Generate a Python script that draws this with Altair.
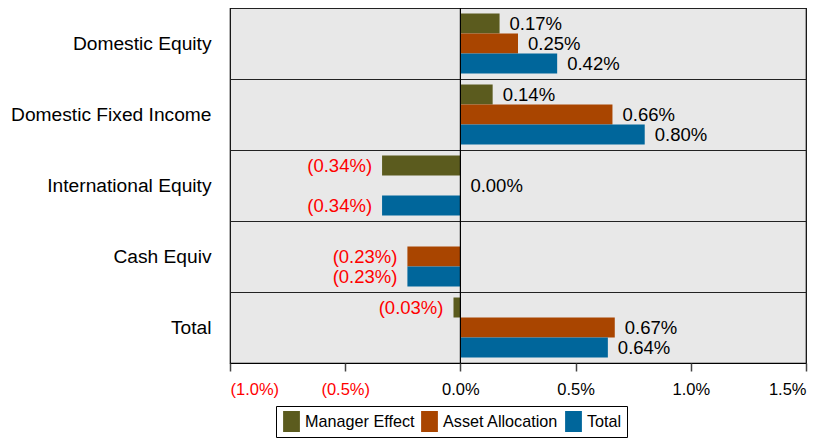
import altair as alt
import pandas as pd

categories = ["Domestic Equity", "Domestic Fixed Income", "International Equity", "Cash Equiv", "Total"]
series = ["Manager Effect", "Asset Allocation", "Total"]
manager = [0.17, 0.14, -0.34, None, -0.03]
allocation = [0.25, 0.66, 0.00, -0.23, 0.67]
total = [0.42, 0.80, -0.34, -0.23, 0.64]
colors = ["#5B5B1E", "#A94500", "#00669B"]
x_ticks = [-1.0, -0.5, 0.0, 0.5, 1.0, 1.5]

rows = []
for s, vals in zip(series, [manager, allocation, total]):
    for c, v in zip(categories, vals):
        if v is not None:
            rows.append({"category": c, "series": s, "value": v})
df = pd.DataFrame(rows)

FONT = "Liberation Sans"

y_enc = alt.Y(
    "category:N",
    sort=categories,
    title=None,
    scale=alt.Scale(paddingInner=0, paddingOuter=0),
    axis=alt.Axis(
        grid=True, bandPosition=0, gridColor="#222222", gridWidth=1, gridOpacity=1,
        ticks=False, domain=False, labelFontSize=19.2, labelFont=FONT,
        labelColor="black", labelPadding=19, labelLimit=400,
    ),
)
yoff = alt.YOffset(
    "series:N", sort=series,
    scale=alt.Scale(paddingOuter=0.275, paddingInner=0),
)
x_enc = alt.X(
    "value:Q",
    title=None,
    scale=alt.Scale(domain=[-1.0, 1.5], nice=False, zero=False),
    axis=alt.Axis(
        values=x_ticks, grid=False, domain=False, ticks=True, tickSize=8,
        tickColor="#444444", tickWidth=1.5, labelFontSize=16.5, labelFont=FONT,
        labelPadding=10,
        labelExpr="datum.value < 0 ? '(' + format(-datum.value, '.1f') + '%)' : format(datum.value, '.1f') + '%'",
        labelColor={"condition": {"test": "datum.value < 0", "value": "#FF0000"}, "value": "black"},
    ),
)

base = alt.Chart(df).encode(y=y_enc, yOffset=yoff)

bars = base.mark_bar(size=20).encode(
    x=x_enc,
    color=alt.Color(
        "series:N",
        sort=series,
        scale=alt.Scale(domain=series, range=colors),
        legend=alt.Legend(
            title=None, orient="none", direction="horizontal",
            legendX=46, legendY=398,
            strokeColor="black", padding=5, fillColor="white",
            labelFontSize=16.2, labelFont=FONT, labelColor="black",
            symbolType="M-0.8,-1H0.8V1H-0.8Z", symbolSize=441,
            symbolStrokeWidth=0, symbolOpacity=1, labelOffset=3, columnPadding=4,
        ),
    ),
)

label_calc = "datum.value < 0 ? '(' + format(-datum.value, '.2f') + '%)' : format(datum.value, '.2f') + '%'"

pos_text = base.transform_filter("datum.value >= 0").transform_calculate(
    label=label_calc
).mark_text(align="left", baseline="middle", dx=10, fontSize=18.5, font=FONT, color="black").encode(
    x=alt.X("value:Q"), text="label:N"
)
neg_text = base.transform_filter("datum.value < 0").transform_calculate(
    label=label_calc
).mark_text(align="right", baseline="middle", dx=-10, fontSize=18.5, font=FONT, color="#FF0000").encode(
    x=alt.X("value:Q"), text="label:N"
)

zero_rule = alt.Chart(pd.DataFrame({"z": [0.0]})).mark_rule(color="black", strokeWidth=1.2).encode(
    x=alt.X("z:Q")
)

chart = alt.layer(bars, zero_rule, pos_text, neg_text).properties(
    width=576, height=355, padding={"left": 2, "top": -1, "right": 5, "bottom": 5}
).configure(background="white").configure_view(
    stroke="black", strokeWidth=1.2, fill="#E8E8E8"
)

chart.save("out.html", embed_options={"renderer": "svg", "actions": False})
